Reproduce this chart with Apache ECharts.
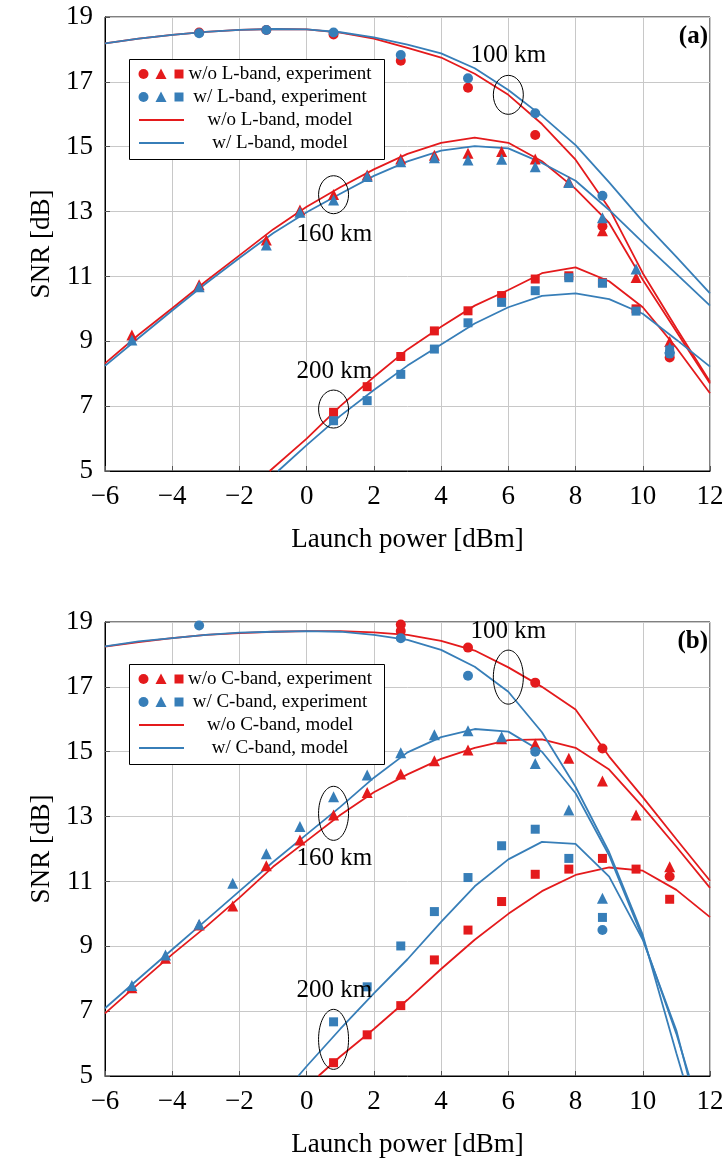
<!DOCTYPE html>
<html><head><meta charset="utf-8">
<script src="https://cdn.jsdelivr.net/npm/echarts@6/dist/echarts.min.js"></script>
<style>html,body{margin:0;padding:0;background:#fff}#c{width:727px;height:1162px}</style>
</head><body><div id="c"></div>
<script>
// ---------------- DATA: panel (a) L-band ----------------
const xTicks = [-6, -4, -2, 0, 2, 4, 6, 8, 10, 12];
const yTicks = [5, 7, 9, 11, 13, 15, 17, 19];

const a_woCircle = [[-3.2,18.52],[-1.2,18.6],[0.8,18.46],[2.8,17.65],[4.8,16.82],[6.8,15.36],[8.8,12.55],[10.8,8.5]];
const a_wCircle  = [[-3.2,18.5],[-1.2,18.6],[0.8,18.52],[2.8,17.83],[4.8,17.11],[6.8,16.03],[8.8,13.49],[10.8,8.62]];
const a_woTri = [[-5.2,9.19],[-3.2,10.74],[-1.2,12.12],[-0.2,13.05],[0.8,13.53],[1.8,14.13],[2.8,14.62],[3.8,14.74],[4.8,14.8],[5.8,14.85],[6.8,14.62],[7.8,13.92],[8.8,12.41],[9.8,10.97],[10.8,8.99]];
const a_wTri  = [[-5.2,9.04],[-3.2,10.68],[-1.2,11.97],[-0.2,12.98],[0.8,13.36],[1.8,14.08],[2.8,14.54],[3.8,14.66],[4.8,14.59],[5.8,14.61],[6.8,14.38],[7.8,13.9],[8.8,12.81],[9.8,11.23],[10.8,8.8]];
const a_woSq = [[0.8,6.81],[1.8,7.6],[2.8,8.53],[3.8,9.32],[4.8,9.94],[5.8,10.41],[6.8,10.92],[7.8,11.02],[8.8,10.81],[9.8,10.0],[10.8,8.6]];
const a_wSq  = [[0.8,6.55],[1.8,7.17],[2.8,7.98],[3.8,8.76],[4.8,9.57],[5.8,10.2],[6.8,10.56],[7.8,10.96],[8.8,10.79],[9.8,9.93],[10.8,8.73]];

const a_woModel100 = [[-6,18.19],[-5,18.33],[-4,18.45],[-3,18.54],[-2,18.6],[-1,18.63],[0,18.62],[1,18.52],[2,18.33],[3,18.05],[4,17.75],[5,17.25],[6,16.6],[7,15.7],[8,14.6],[9,13.1],[10,11.1],[11,9.4],[12,7.75]];
const a_wModel100  = [[-6,18.19],[-5,18.33],[-4,18.45],[-3,18.54],[-2,18.6],[-1,18.63],[0,18.62],[1,18.53],[2,18.37],[3,18.15],[4,17.88],[5,17.42],[6,16.75],[7,15.95],[8,15.05],[9,13.9],[10,12.7],[11,11.6],[12,10.48]];
const a_woModel160 = [[-6,8.32],[-5,9.2],[-4,10.02],[-3,10.85],[-2,11.65],[-1,12.45],[0,13.15],[1,13.75],[2,14.3],[3,14.78],[4,15.12],[5,15.28],[6,15.12],[7,14.55],[8,13.7],[9,12.65],[10,10.9],[11,9.3],[12,7.7]];
const a_wModel160  = [[-6,8.24],[-5,9.1],[-4,9.95],[-3,10.78],[-2,11.57],[-1,12.33],[0,12.98],[1,13.55],[2,14.1],[3,14.55],[4,14.88],[5,15.02],[6,14.95],[7,14.5],[8,13.95],[9,13.05],[10,12.05],[11,11.08],[12,10.1]];
const a_woModel200 = [[-1.1,5.0],[0,6.0],[1,7.0],[2,7.9],[3,8.75],[4,9.45],[5,10.1],[6,10.58],[7,11.1],[8,11.28],[9,10.85],[10,10.05],[11,8.8],[12,7.4]];
const a_wModel200  = [[-0.85,5.0],[0,5.8],[1,6.7],[2,7.5],[3,8.25],[4,8.9],[5,9.55],[6,10.05],[7,10.4],[8,10.48],[9,10.3],[10,9.85],[11,9.05],[12,8.22]];

// ---------------- DATA: panel (b) C-band ----------------
const b_woCircle = [[2.8,18.92],[2.8,18.72],[4.8,18.21],[6.8,17.13],[8.8,15.1],[10.8,11.15]];
const b_wCircle  = [[-3.2,18.89],[2.8,18.5],[4.8,17.34],[6.8,15.0],[8.8,9.5]];
const b_woTri = [[-5.2,7.72],[-4.2,8.63],[-3.2,9.66],[-2.2,10.24],[-1.2,11.48],[-0.2,12.28],[0.8,13.05],[1.8,13.74],[2.8,14.31],[3.8,14.72],[4.8,15.05],[5.8,15.4],[6.8,15.24],[7.8,14.8],[8.8,14.1],[9.8,13.05],[10.8,11.45]];
const b_wTri  = [[-5.2,7.79],[-4.2,8.73],[-3.2,9.68],[-2.2,10.94],[-1.2,11.85],[-0.2,12.69],[0.8,13.61],[1.8,14.28],[2.8,14.97],[3.8,15.52],[4.8,15.65],[5.8,15.46],[6.8,14.64],[7.8,13.2],[8.8,10.48]];
const b_woSq = [[0.8,5.41],[1.8,6.27],[2.8,7.17],[3.8,8.58],[4.8,9.5],[5.8,10.38],[6.8,11.22],[7.8,11.38],[8.8,11.71],[9.8,11.38],[10.8,10.45]];
const b_wSq  = [[0.8,6.67],[1.8,7.75],[2.8,9.01],[3.8,10.07],[4.8,11.12],[5.8,12.1],[6.8,12.61],[7.8,11.71],[8.8,9.89]];

const b_woModel100 = [[-6,18.24],[-5,18.38],[-4,18.5],[-3,18.6],[-2,18.66],[-1,18.7],[0,18.72],[1,18.72],[2,18.68],[3,18.6],[4,18.42],[5,18.12],[6,17.6],[7,17.0],[8,16.3],[9,14.85],[10,13.6],[11,12.3],[12,11.02]];
const b_wModel100  = [[-6,18.25],[-5,18.4],[-4,18.5],[-3,18.6],[-2,18.67],[-1,18.7],[0,18.72],[1,18.7],[2,18.6],[3,18.45],[4,18.14],[5,17.62],[6,16.85],[7,15.6],[8,13.92],[9,11.9],[10,9.35],[11,5.7],[11.2,5.0]];
const b_woModel160 = [[-6,6.93],[-5,7.85],[-4,8.75],[-3,9.6],[-2,10.5],[-1,11.45],[0,12.25],[1,13.05],[2,13.75],[3,14.3],[4,14.78],[5,15.12],[6,15.36],[7,15.38],[8,15.12],[9,14.45],[10,13.3],[11,12.07],[12,10.8]];
const b_wModel160  = [[-6,7.09],[-5,8.0],[-4,8.9],[-3,9.8],[-2,10.7],[-1,11.6],[0,12.45],[1,13.3],[2,14.2],[3,14.98],[4,15.45],[5,15.7],[6,15.62],[7,15.0],[8,13.72],[9,11.8],[10,9.25],[11,6.3],[11.38,5.0]];
const b_woModel200 = [[0.35,5.0],[1,5.6],[2,6.45],[3,7.35],[4,8.3],[5,9.2],[6,10.0],[7,10.7],[8,11.2],[9,11.43],[10,11.33],[11,10.74],[12,9.9]];
const b_wModel200  = [[-0.25,5.0],[0,5.3],[1,6.45],[2,7.55],[3,8.6],[4,9.75],[5,10.85],[6,11.68],[7,12.22],[8,12.16],[9,11.15],[10,9.2],[11,6.4],[11.35,5.0]];

const legendA = ['w/o L-band, experiment', 'w/ L-band, experiment', 'w/o L-band, model', 'w/ L-band, model'];
const legendB = ['w/o C-band, experiment', 'w/ C-band, experiment', 'w/o C-band, model', 'w/ C-band, model'];

// annotations: [label, x, y] in data units, ellipse [x, y]
const annA = [['100 km', 6.0, 17.83, 6.0, 16.6], ['160 km', 0.82, 12.31, 0.8, 13.52], ['200 km', 0.82, 8.08, 0.8, 6.91]];
const annB = [['100 km', 6.0, 18.72, 6.0, 17.3], ['160 km', 0.82, 11.72, 0.8, 13.1], ['200 km', 0.82, 7.65, 0.8, 6.13]];

// ---------------- STYLE ----------------
const RED = '#e41a1c', BLUE = '#377eb8';
const FONT = '"Liberation Serif", "Times New Roman", serif';
const GRID_TOP = [17, 622];
const ellipseRy = [[19.5, 19, 19], [27, 27, 30]];

const chart = echarts.init(document.getElementById('c'), null, {renderer: 'canvas'});
const minus = v => String(v).replace('-', '\u2212');

function axes(i) {
  return {
    x: {
      gridIndex: i, type: 'value', min: -6, max: 12, interval: 2,
      axisLine: {show: true, onZero: false, lineStyle: {color: '#000', width: 1}},
      axisTick: {show: true, inside: true, length: 5, lineStyle: {color: '#555'}},
      axisLabel: {fontFamily: FONT, fontSize: 27, color: '#000', margin: 12, formatter: minus},
      splitLine: {show: true, lineStyle: {color: '#c8c8c8', width: 1}},
      name: 'Launch power [dBm]', nameLocation: 'middle', nameGap: 55,
      nameTextStyle: {fontFamily: FONT, fontSize: 27, color: '#000'}
    },
    y: {
      gridIndex: i, type: 'value', min: 5, max: 19, interval: 2,
      axisLine: {show: true, onZero: false, lineStyle: {color: '#000', width: 1}},
      axisTick: {show: true, inside: true, length: 5, lineStyle: {color: '#555'}},
      axisLabel: {fontFamily: FONT, fontSize: 27, color: '#000', margin: 12},
      splitLine: {show: true, lineStyle: {color: '#c8c8c8', width: 1}},
      name: 'SNR [dB]', nameLocation: 'middle', nameGap: 48, nameRotate: 90,
      nameTextStyle: {fontFamily: FONT, fontSize: 27, color: '#000'}
    }
  };
}

function lineS(i, data, color) {
  return {type: 'line', xAxisIndex: i, yAxisIndex: i, data: data, showSymbol: false, symbol: 'none',
    lineStyle: {color: color, width: 1.8}, itemStyle: {color: color}, z: 2, clip: true, silent: true};
}
function scatS(i, data, color, symbol, size) {
  return {type: 'scatter', xAxisIndex: i, yAxisIndex: i, data: data, symbol: symbol, symbolSize: size,
    itemStyle: {color: color, opacity: 1}, z: 3, clip: true, silent: true};
}
function panel(i, d) {
  return [
    lineS(i, d.woM100, RED), lineS(i, d.woM160, RED), lineS(i, d.woM200, RED),
    lineS(i, d.wM100, BLUE), lineS(i, d.wM160, BLUE), lineS(i, d.wM200, BLUE),
    scatS(i, d.woC, RED, 'circle', 10), scatS(i, d.woT, RED, 'triangle', 11), scatS(i, d.woS, RED, 'rect', 9),
    scatS(i, d.wC, BLUE, 'circle', 10), scatS(i, d.wT, BLUE, 'triangle', 11), scatS(i, d.wS, BLUE, 'rect', 9)
  ];
}

const A = axes(0), B = axes(1);
const series = [].concat(
  panel(0, {woM100: a_woModel100, woM160: a_woModel160, woM200: a_woModel200, wM100: a_wModel100, wM160: a_wModel160, wM200: a_wModel200,
    woC: a_woCircle, woT: a_woTri, woS: a_woSq, wC: a_wCircle, wT: a_wTri, wS: a_wSq}),
  panel(1, {woM100: b_woModel100, woM160: b_woModel160, woM200: b_woModel200, wM100: b_wModel100, wM160: b_wModel160, wM200: b_wModel200,
    woC: b_woCircle, woT: b_woTri, woS: b_woSq, wC: b_wCircle, wT: b_wTri, wS: b_wSq})
);

chart.setOption({
  animation: false,
  backgroundColor: '#fff',
  grid: [
    {left: 105, width: 605, top: GRID_TOP[0], height: 454, show: true, borderColor: '#000', borderWidth: 1, backgroundColor: 'transparent'},
    {left: 105, width: 605, top: GRID_TOP[1], height: 454, show: true, borderColor: '#000', borderWidth: 1, backgroundColor: 'transparent'}
  ],
  xAxis: [A.x, B.x],
  yAxis: [A.y, B.y],
  series: series
});

function legendEls(top, labels) {
  const els = [];
  els.push({type: 'rect', shape: {x: 129.5, y: top + 0.5, width: 255, height: 100}, style: {fill: '#fff', stroke: '#000', lineWidth: 1}, z: 100});
  const rows = [15, 38, 61, 84];
  const colors = [RED, BLUE];
  for (let r = 0; r < 2; r++) {
    const cy = top + rows[r];
    els.push({type: 'circle', shape: {cx: 143.5, cy: cy, r: 5}, style: {fill: colors[r]}, z: 101});
    els.push({type: 'polygon', shape: {points: [[161, cy - 5.5], [166.5, cy + 5], [155.5, cy + 5]]}, style: {fill: colors[r]}, z: 101});
    els.push({type: 'rect', shape: {x: 174.5, y: cy - 4.5, width: 9, height: 9}, style: {fill: colors[r]}, z: 101});
  }
  for (let r = 2; r < 4; r++) {
    const cy = top + rows[r];
    els.push({type: 'line', shape: {x1: 139, y1: cy, x2: 184, y2: cy}, style: {stroke: colors[r - 2], lineWidth: 1.8}, z: 101});
  }
  for (let r = 0; r < 4; r++) {
    els.push({type: 'text', x: 280, y: top + rows[r],
      style: {text: labels[r], font: '19px ' + FONT, fill: '#000', align: 'center', verticalAlign: 'middle', textAlign: 'center', textVerticalAlign: 'middle'}, z: 101});
  }
  return els;
}

function annEls(gi, ann, rys) {
  const els = [];
  ann.forEach((a, k) => {
    const tp = chart.convertToPixel({gridIndex: gi}, [a[1], a[2]]);
    const ep = chart.convertToPixel({gridIndex: gi}, [a[3], a[4]]);
    els.push({type: 'ellipse', shape: {cx: ep[0], cy: ep[1], rx: 15, ry: rys[k]}, style: {fill: 'none', stroke: '#000', lineWidth: 1}, z: 90});
    els.push({type: 'text', x: tp[0], y: tp[1],
      style: {text: a[0], font: '25px ' + FONT, fill: '#000', align: 'center', verticalAlign: 'middle', textAlign: 'center', textVerticalAlign: 'middle'}, z: 90});
  });
  return els;
}

const graphics = [].concat(
  legendEls(59, legendA), legendEls(664, legendB),
  annEls(0, annA, ellipseRy[0]), annEls(1, annB, ellipseRy[1]),
  [
    {type: 'text', x: 708, y: 37, style: {text: '(a)', font: 'bold 25px ' + FONT, fill: '#000', align: 'right', verticalAlign: 'middle', textAlign: 'right', textVerticalAlign: 'middle'}, z: 100},
    {type: 'text', x: 708, y: 642, style: {text: '(b)', font: 'bold 25px ' + FONT, fill: '#000', align: 'right', verticalAlign: 'middle', textAlign: 'right', textVerticalAlign: 'middle'}, z: 100}
  ]
);
chart.setOption({graphic: graphics});
</script></body></html>
